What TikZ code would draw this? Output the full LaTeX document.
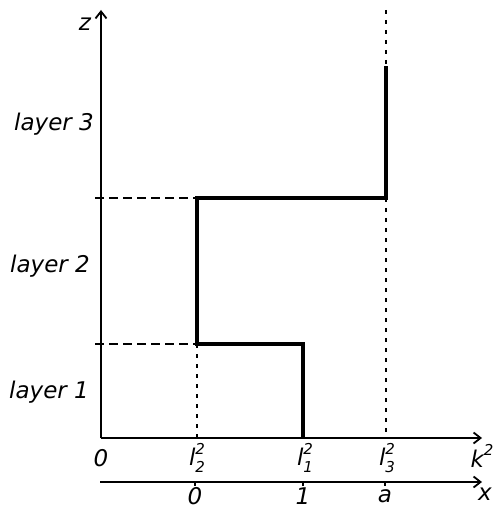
\documentclass[tikz,border=0pt]{standalone}
\usepackage{fontspec}
\setmainfont{DejaVu Sans}
\usetikzlibrary{arrows.meta}
\newcommand{\supsub}[3]{#1\rlap{\raisebox{0.5em}{\fontsize{15}{17}\selectfont #2}}\raisebox{-0.3em}{\fontsize{15}{17}\selectfont #3}}
\begin{document}
\begin{tikzpicture}[x=1pt,y=-1pt,
  axis/.style={line width=2.2pt,-{Straight Barb[length=7pt,width=11pt,line width=1.8pt]}},
  curve/.style={line width=3.6pt,line join=miter},
  dashline/.style={line width=1.5pt,dash pattern=on 9pt off 5pt},
  dotline/.style={line width=1.6pt,dash pattern=on 4pt off 6pt},
  lbl/.style={font=\fontsize{23}{27}\selectfont\itshape,inner sep=0pt}]
\useasboundingbox (0,0) rectangle (495,510);
% coordinates
\coordinate (O) at (101,438);
\coordinate (ztip) at (101,10);
\coordinate (ktip) at (482,438);
\coordinate (xs) at (100,482);
\coordinate (xtip) at (482,482);
\coordinate (p1) at (303,438);
\coordinate (p2) at (303,344);
\coordinate (p3) at (197,344);
\coordinate (p4) at (197,198);
\coordinate (p5) at (386,198);
\coordinate (p6) at (386,66);
\coordinate (d1) at (95,344);
\coordinate (d2) at (95,198);
\coordinate (t3) at (386,10);
\coordinate (b2) at (197,438);
\coordinate (b3) at (386,438);
\coordinate (x0) at (195,482);
\coordinate (x1) at (303,482);
\coordinate (xa) at (385,482);
% axes
\draw[axis] (O) -- (ztip);
\draw[axis] (O) -- (ktip);
\draw[axis] (xs) -- (xtip);
\foreach \c in {x0,x1,xa} \draw[line width=1.5pt] (\c) -- ++(0,4);
% guides
\draw[dashline] (d1) -- (p3);
\draw[dashline] (d2) -- (p4);
\draw[dotline] (p3) -- (b2);
\draw[dotline] (p5) -- (b3);
\draw[dotline] (t3) -- (p6);
% profile
\draw[curve] (p1) -- (p2) -- (p3) -- (p4) -- (p5) -- (p6);
% labels
\node[lbl] (zl) at (85,24) {z};
\node[lbl] (L3) at (54,124) {layer 3};
\node[lbl] (L2) at (50,266) {layer 2};
\node[lbl] (L1) at (49,392) {layer 1};
\node[lbl] (k0) at (101,458) {0};
\node[lbl] (l2) at (197,458) {\supsub{l}{2}{2}};
\node[lbl] (l1) at (305,458) {\supsub{l}{2}{1}};
\node[lbl] (l3) at (387,458) {\supsub{l}{2}{3}};
\node[lbl] (kl) at (482,456) {k\raisebox{0.5em}{\fontsize{15}{17}\selectfont 2}};
\node[lbl] (n0) at (195,496) {0};
\node[lbl] (n1) at (303,496) {1};
\node[lbl] (na) at (385,496) {a};
\node[lbl] (xl) at (485,494) {x};
\end{tikzpicture}
\end{document}
